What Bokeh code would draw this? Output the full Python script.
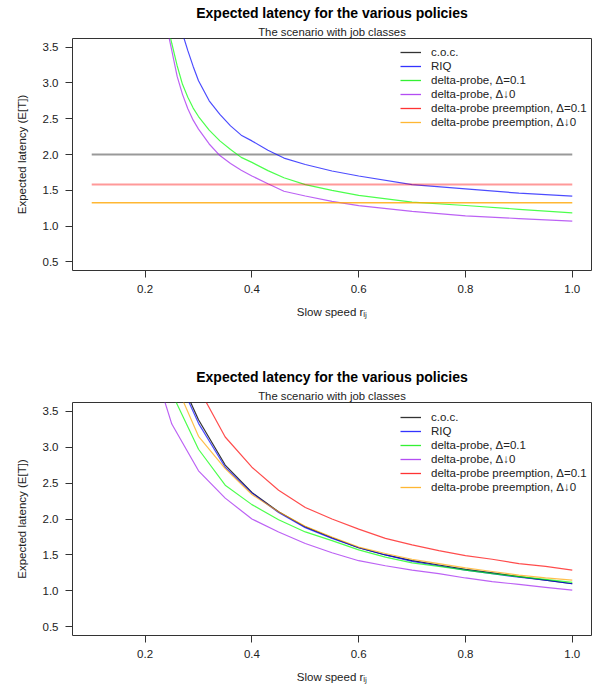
from bokeh.plotting import figure
from bokeh.models import Legend, LegendItem, Range1d, FixedTicker, PrintfTickFormatter, Title
from bokeh.layouts import column
from bokeh.embed import file_html
from bokeh.resources import INLINE

# ---------------- data ----------------
x_ticks = [0.2, 0.4, 0.6, 0.8, 1.0]
y_ticks = [0.5, 1.0, 1.5, 2.0, 2.5, 3.0, 3.5]

legend_labels = ["c.o.c.", "RIQ", "delta-probe, \u0394=0.1", "delta-probe, \u0394\u21930",
                 "delta-probe preemption, \u0394=0.1", "delta-probe preemption, \u0394\u21930"]

# top panel
x_flat = [0.1, 1.0]
coc_top = [2.0, 2.0]
pre01_top = [1.58, 1.58]
pre0_top = [1.325, 1.325]
x_top = [0.2, 0.225, 0.24, 0.25, 0.26, 0.27, 0.28, 0.29, 0.30, 0.32, 0.34, 0.36, 0.38, 0.40,
         0.43, 0.46, 0.50, 0.55, 0.60, 0.70, 0.80, 0.90, 1.00]
riq_top = [7.0, 5.5, 4.7, 4.2, 3.92, 3.69, 3.45, 3.23, 3.03, 2.75, 2.56, 2.40, 2.27, 2.19,
           2.06, 1.95, 1.86, 1.77, 1.70, 1.58, 1.52, 1.46, 1.42]
dp01_top = [6.0, 4.6, 3.87, 3.55, 3.24, 2.98, 2.80, 2.648, 2.53, 2.34, 2.19, 2.07, 1.96, 1.89,
            1.775, 1.675, 1.58, 1.50, 1.43, 1.335, 1.288, 1.235, 1.186]
dp0_top = [5.8, 4.5, 3.80, 3.45, 3.09, 2.84, 2.64, 2.48, 2.355, 2.147, 1.985, 1.873, 1.78, 1.70,
           1.592, 1.487, 1.42, 1.345, 1.285, 1.205, 1.144, 1.105, 1.069]

# bottom panel
x_bot = [0.2, 0.25, 0.3, 0.35, 0.4, 0.45, 0.5, 0.55, 0.6, 0.65, 0.7, 0.75, 0.8, 0.85, 0.9, 0.95, 1.0]
coc_bot = [6.2, 4.2, 3.38, 2.75, 2.37, 2.10, 1.89, 1.74, 1.60, 1.50, 1.42, 1.36, 1.30, 1.25, 1.20, 1.15, 1.10]
riq_bot = [6.0, 4.15, 3.33, 2.72, 2.36, 2.09, 1.88, 1.73, 1.60, 1.50, 1.41, 1.35, 1.29, 1.24, 1.19, 1.15, 1.10]
dp01_bot = [5.2, 3.75, 2.97, 2.47, 2.20, 1.99, 1.82, 1.70, 1.57, 1.47, 1.39, 1.34, 1.29, 1.24, 1.20, 1.16, 1.12]
dp0_bot = [4.5, 3.32, 2.67, 2.29, 2.00, 1.82, 1.66, 1.53, 1.42, 1.35, 1.29, 1.24, 1.18, 1.13, 1.09, 1.05, 1.01]
pre01_bot = [8.0, 5.5, 3.82, 3.14, 2.72, 2.40, 2.16, 2.00, 1.86, 1.73, 1.64, 1.56, 1.49, 1.44, 1.38, 1.34, 1.29]
pre0_bot = [5.8, 4.0, 3.15, 2.70, 2.34, 2.10, 1.90, 1.75, 1.61, 1.52, 1.44, 1.38, 1.32, 1.27, 1.22, 1.18, 1.15]

# ---------------- styling ----------------
FONT = "Liberation Sans"
TXT = "#222222"
XR = (0.064, 1.036)
YR = (0.38, 3.62)
W = 601
FL, FR = 72, 10
FH = 233
legend_colors = ["black", "blue", "#00ee00", "#a020f0", "red", "orange"]
NAN = float("nan")


def make_panel(height, top_border, lines):
    bottom_border = height - top_border - FH
    p = figure(width=W, height=height, output_backend="svg", toolbar_location=None,
               x_range=Range1d(*XR), y_range=Range1d(*YR),
               min_border_left=FL, min_border_right=FR,
               min_border_top=top_border, min_border_bottom=bottom_border,
               title=None)
    p.grid.visible = False
    p.outline_line_color = "#333333"
    p.outline_line_width = 1
    p.background_fill_color = "white"
    p.border_fill_color = "white"
    for ax, ticks in ((p.xaxis[0], x_ticks), (p.yaxis[0], y_ticks)):
        ax.ticker = FixedTicker(ticks=ticks)
        ax.formatter = PrintfTickFormatter(format="%.1f")
        ax.axis_line_color = None
        ax.major_tick_in = 0
        ax.major_tick_out = 7
        ax.minor_tick_line_color = None
        ax.major_tick_line_color = "#333333"
        ax.major_label_text_font = FONT
        ax.major_label_text_font_size = "11.5px"
        ax.major_label_text_color = TXT
        ax.major_label_standoff = 7
        ax.axis_label_text_font = FONT
        ax.axis_label_text_font_size = "11.5px"
        ax.axis_label_text_font_style = "normal"
        ax.axis_label_text_color = TXT
    p.xaxis[0].axis_label = "Slow speed r\u1d62\u2c7c"
    p.xaxis[0].axis_label_standoff = 10
    p.yaxis[0].axis_label = "Expected latency (E[T])"
    p.yaxis[0].axis_label_standoff = 12

    for xs, ys, col, lw, alpha in lines:
        p.line(xs, ys, line_color=col, line_width=lw, line_alpha=alpha)

    # legend via proxy renderers (single NaN row -> nothing drawn in the frame)
    items = []
    for lab, col in zip(legend_labels, legend_colors):
        r = p.line(x=[NAN], y=[NAN], line_color=col, line_width=1.3, line_alpha=0.8)
        items.append(LegendItem(label=lab, renderers=[r]))
    leg = Legend(items=items, location=(328, 141), padding=0, margin=0, spacing=0,
                 label_height=14, glyph_height=14, glyph_width=21, label_standoff=10,
                 border_line_color=None, background_fill_alpha=0,
                 label_text_font=FONT, label_text_font_size="11.5px",
                 label_text_color=TXT)
    p.add_layout(leg, "center")

    p.add_layout(Title(text="The scenario with job classes", align="center",
                       text_font=FONT, text_font_size="11.3px", text_font_style="normal",
                       text_color=TXT, standoff=2, text_line_height=1.0), "above")
    p.add_layout(Title(text="Expected latency for the various policies", align="center",
                       text_font=FONT, text_font_size="14px", text_font_style="bold",
                       text_color="black", standoff=4, text_line_height=1.0), "above")
    return p


top_lines = [
    (x_flat, coc_top, "black", 2.2, 0.4),
    (x_top, riq_top, "blue", 1.2, 0.7),
    (x_top, dp01_top, "#00ff00", 1.2, 0.7),
    (x_top, dp0_top, "#a020f0", 1.2, 0.7),
    (x_flat, pre01_top, "red", 2.0, 0.4),
    (x_flat, pre0_top, "orange", 1.5, 0.8),
]
bot_lines = [
    (x_bot, coc_bot, "black", 1.2, 0.8),
    (x_bot, riq_bot, "blue", 1.2, 0.7),
    (x_bot, dp01_bot, "#00ff00", 1.2, 0.7),
    (x_bot, dp0_bot, "#a020f0", 1.2, 0.7),
    (x_bot, pre01_bot, "red", 1.2, 0.7),
    (x_bot, pre0_bot, "orange", 1.2, 0.7),
]

p1 = make_panel(364, 37, top_lines)
p2 = make_panel(330, 38, bot_lines)
layout = column(p1, p2, spacing=0)

open("out.html", "w").write(file_html(layout, INLINE))
